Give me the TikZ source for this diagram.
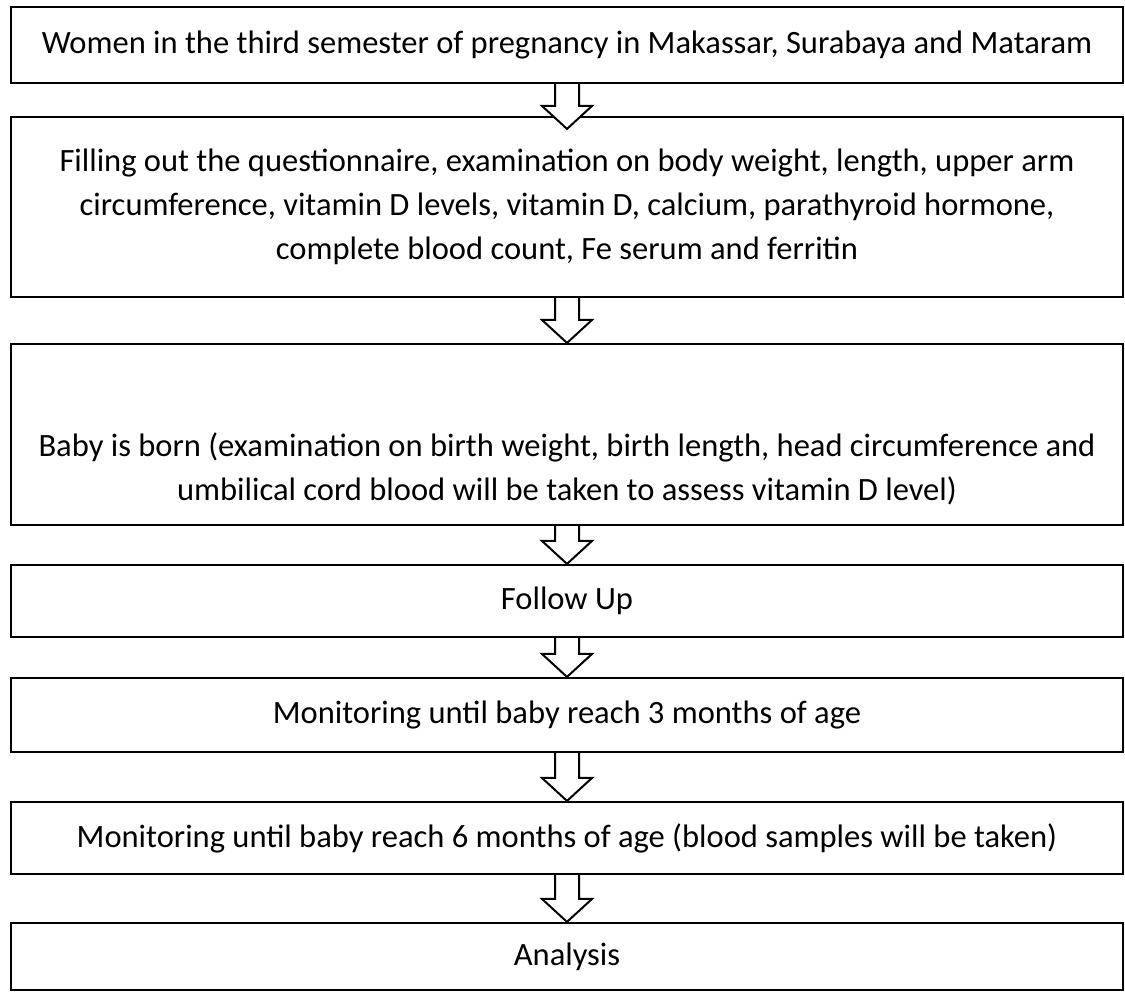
\documentclass[tikz,border=0pt]{standalone}
\usepackage{fontspec}
\setmainfont{Carlito}
\usetikzlibrary{calc}

\begin{document}
\begin{tikzpicture}[
    x=0.75pt, y=-0.75pt,
    stage/.style={rectangle, draw=black, line width=1.6pt, fill=white, align=center, minimum width=1112*0.75pt, inner sep=0pt, font=\fontsize{24.4}{33}\selectfont},
    blockarrow/.style={draw=black, line width=1.5pt, fill=white, line join=miter}
]
    \useasboundingbox (0,0) rectangle (1125,992);

    \node [stage, minimum height=76*0.75pt] (women) at (567,45) {Women in the third semester of pregnancy in Makassar, Surabaya and Mataram};
    \node [stage, minimum height=180*0.75pt] (questionnaire) at (567,207) {Filling out the questionnaire, examination on body weight, length, upper arm\\circumference, vitamin D levels, vitamin D, calcium, parathyroid hormone,\\complete blood count, Fe serum and ferritin};
    \node [stage, minimum height=181*0.75pt] (born) at (567,434.5) {\mbox{}\\[36pt]Baby is born (examination on birth weight, birth length, head circumference and\\umbilical cord blood will be taken to assess vitamin D level)};
    \node [stage, minimum height=72*0.75pt] (followup) at (567,601) {Follow Up};
    \node [stage, minimum height=74*0.75pt] (threemonths) at (567,715) {Monitoring until baby reach 3 months of age};
    \node [stage, minimum height=72*0.75pt] (sixmonths) at (567,838) {Monitoring until baby reach 6 months of age (blood samples will be taken)};
    \node [stage, minimum height=67*0.75pt] (analysis) at (567,956.5) {Analysis};

    % hollow block arrows between the stages
    \draw [blockarrow] ($(women.south)+(-12,0)$) -- ($(questionnaire.north)+(-12,-10)$) -- ($(questionnaire.north)+(-25,-10)$) -- ($(questionnaire.north)+(0,13)$) -- ($(questionnaire.north)+(25,-10)$) -- ($(questionnaire.north)+(12,-10)$) -- ($(women.south)+(12,0)$);
    \draw [blockarrow] ($(questionnaire.south)+(-12,0)$) -- ($(born.north)+(-12,-23)$) -- ($(born.north)+(-25,-23)$) -- (born.north) -- ($(born.north)+(25,-23)$) -- ($(born.north)+(12,-23)$) -- ($(questionnaire.south)+(12,0)$);
    \draw [blockarrow] ($(born.south)+(-12,0)$) -- ($(followup.north)+(-12,-23)$) -- ($(followup.north)+(-25,-23)$) -- (followup.north) -- ($(followup.north)+(25,-23)$) -- ($(followup.north)+(12,-23)$) -- ($(born.south)+(12,0)$);
    \draw [blockarrow] ($(followup.south)+(-12,0)$) -- ($(threemonths.north)+(-12,-23)$) -- ($(threemonths.north)+(-25,-23)$) -- (threemonths.north) -- ($(threemonths.north)+(25,-23)$) -- ($(threemonths.north)+(12,-23)$) -- ($(followup.south)+(12,0)$);
    \draw [blockarrow] ($(threemonths.south)+(-12,0)$) -- ($(sixmonths.north)+(-12,-23)$) -- ($(sixmonths.north)+(-25,-23)$) -- (sixmonths.north) -- ($(sixmonths.north)+(25,-23)$) -- ($(sixmonths.north)+(12,-23)$) -- ($(threemonths.south)+(12,0)$);
    \draw [blockarrow] ($(sixmonths.south)+(-12,0)$) -- ($(analysis.north)+(-12,-23)$) -- ($(analysis.north)+(-25,-23)$) -- (analysis.north) -- ($(analysis.north)+(25,-23)$) -- ($(analysis.north)+(12,-23)$) -- ($(sixmonths.south)+(12,0)$);
\end{tikzpicture}
\end{document}
